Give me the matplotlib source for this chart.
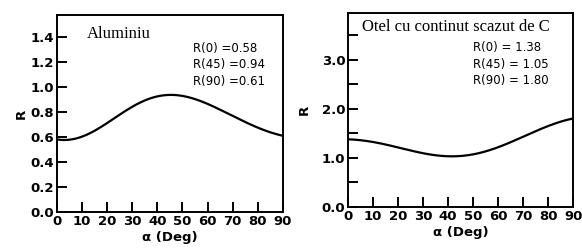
import matplotlib.pyplot as plt
import numpy as np

# curve values
alpha = [0, 10, 20, 30, 40, 45, 50, 60, 70, 80, 90]
r_al = [0.58, 0.61, 0.71, 0.84, 0.93, 0.94, 0.935, 0.86, 0.77, 0.68, 0.61]
alpha_st = [0, 10, 20, 30, 40, 50, 60, 70, 80, 90]
r_st = [1.38, 1.32, 1.22, 1.09, 1.03, 1.08, 1.22, 1.42, 1.66, 1.80]

xticks = [0, 10, 20, 30, 40, 50, 60, 70, 80, 90]
al_yticks = [0.0, 0.2, 0.4, 0.6, 0.8, 1.0, 1.2, 1.4]
st_yticks = [0.0, 1.0, 2.0, 3.0]
st_minor = [0.5, 1.5, 2.5, 3.5]

al_text = ["R(0) =0.58", "R(45) =0.94", "R(90) =0.61"]
st_text = ["R(0) = 1.38", "R(45) = 1.05", "R(90) = 1.80"]

plt.rcParams['font.family'] = 'DejaVu Sans'
fig = plt.figure(figsize=(5.82, 2.48), dpi=100)
ax1 = fig.add_axes([0.098, 0.145, 0.388, 0.795])
ax2 = fig.add_axes([0.598, 0.165, 0.387, 0.783])


def smooth(x, y):
    # least squares cosine series through the read points
    x = np.asarray(x, float)
    a = np.radians(x)
    M = np.column_stack([np.cos(2 * k * a) for k in range(4)] +
                        [np.sin(2 * k * a) for k in range(1, 3)])
    c = np.linalg.lstsq(M, np.asarray(y), rcond=None)[0]
    xs = np.linspace(x[0], x[-1], 300)
    b = np.radians(xs)
    Ms = np.column_stack([np.cos(2 * k * b) for k in range(4)] +
                         [np.sin(2 * k * b) for k in range(1, 3)])
    return xs, Ms @ c


def style(ax, ypad):
    for s in ax.spines.values():
        s.set_linewidth(1.4)
    ax.tick_params(direction='in', length=7, width=1.4, labelsize=9.5, pad=2)
    ax.tick_params(which='minor', direction='in', length=7, width=1.4)
    ax.set_xlim(0, 90)
    ax.set_xticks(xticks)
    ax.set_xticklabels([str(t) for t in xticks], fontweight='bold')
    ax.set_xlabel("α (Deg)", fontsize=9.5, fontweight='bold', labelpad=2)
    ax.set_ylabel("R", fontsize=9.5, fontweight='bold', labelpad=ypad)


xs, ys = smooth(alpha, r_al)
ax1.plot(xs, ys, color='black', lw=1.6)
style(ax1, 2)
ax1.set_ylim(0, 1.58)
ax1.set_yticks(al_yticks)
ax1.set_yticklabels(["%.1f" % v for v in al_yticks], fontweight='bold')
ax1.text(12, 1.43, "Aluminiu", family='Liberation Serif', fontsize=12, va='center')
for i, t in enumerate(al_text):
    ax1.text(54, 1.31 - i * 0.13, t, fontsize=8.5, va='center')

xs, ys = smooth(alpha_st, r_st)
ax2.plot(xs, ys, color='black', lw=1.6)
style(ax2, 8)
ax2.set_ylim(0, 3.95)
ax2.set_yticks(st_yticks)
ax2.set_yticks(st_minor, minor=True)
ax2.set_yticklabels(["%.1f" % v for v in st_yticks], fontweight='bold')
ax2.text(5.5, 3.67, "Otel cu continut scazut de C", family='Liberation Serif',
         fontsize=12, va='center')
for i, t in enumerate(st_text):
    ax2.text(50, 3.24 - i * 0.33, t, fontsize=8.5, va='center')

fig.savefig("out.png", dpi=100)
